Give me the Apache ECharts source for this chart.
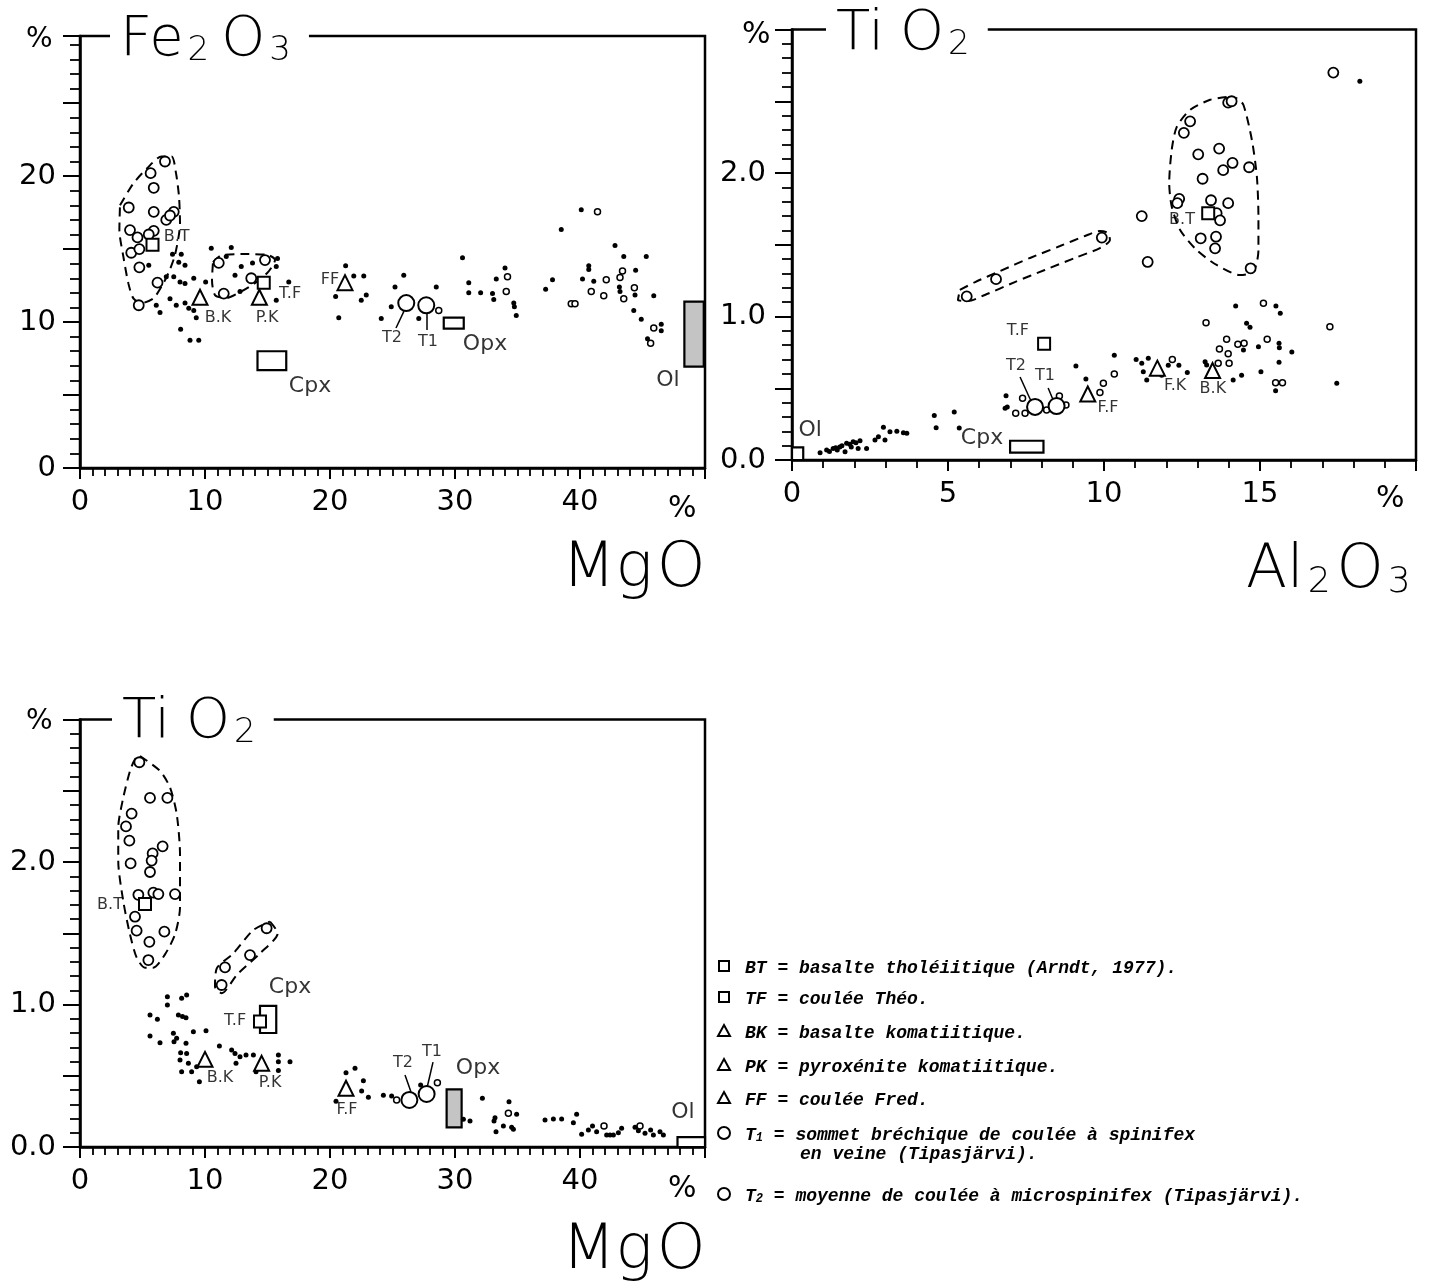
<!DOCTYPE html>
<html><head><meta charset="utf-8">
<script src="https://cdn.jsdelivr.net/npm/echarts/dist/echarts.min.js"></script>
<style>html,body{margin:0;padding:0;background:#fff}#c{width:1433px;height:1281px}</style>
</head><body><div id="c"></div><script>
// ---------- Chart 1 : Fe2O3 vs MgO ----------
const fe_dots = [[7.4,14.65],[8.1,14.65],[7.9,14.1],[8.4,13.9],[6.9,13.1],[7.5,13.1],[8.0,12.75],[8.4,12.65],[9.1,13.0],[10.05,12.75],[7.2,11.6],[7.7,11.15],[6.1,11.15],[6.4,10.65],[8.4,11.3],[8.7,10.95],[9.1,10.8],[9.3,10.3],[8.05,9.5],[8.8,8.75],[9.5,8.75],[5.5,13.9],
[10.5,15.05],[12.1,15.1],[11.7,14.5],[12.9,13.8],[12.4,13.2],[12.8,12.1],[13.8,14.05],[15.8,14.35],[15.7,13.8],[15.7,11.5],[16.7,12.75],
[21.25,13.85],[21.9,13.15],[22.7,13.15],[20.45,11.75],[20.7,10.3],[22.5,11.5],[22.9,11.85],[24.1,10.25],[24.9,11.05],[25.2,12.4],[25.9,13.2],[27.1,10.25],[28.5,12.4],
[30.6,14.4],[31.1,12.7],[31.1,12.0],[32.05,12.0],[33.0,11.95],[33.1,11.55],[33.3,12.95],[34.0,13.7],[34.7,11.3],[34.75,11.05],[34.9,10.45],
[37.25,12.25],[37.8,12.9],[38.5,16.35],[40.1,17.7],[40.2,12.95],[40.7,13.85],[40.7,13.6],[41.1,12.8],[42.8,15.25],[43.5,14.5],[43.15,12.4],[43.2,12.1],[44.45,13.55],[44.4,11.85],[44.3,10.8],[44.9,10.2],[45.3,14.5],[45.9,11.8],[46.5,9.85],[46.5,9.4],[45.4,8.85]];
const fe_circles = [[6.8,21.0],[5.65,20.2],[5.9,19.2],[3.9,17.85],[5.9,17.55],[7.5,17.55],[6.9,17.0],[7.2,17.3],[4.0,16.3],[4.6,15.8],[5.9,16.25],[5.5,16.0],[4.1,14.75],[4.75,15.0],[4.75,13.75],[4.7,11.15],[6.2,12.7],[11.1,14.05],[11.5,11.95],[13.7,13.0],[14.8,14.25]];
const fe_small_circles = [[41.4,17.55],[39.3,11.25],[39.6,11.25],[40.9,12.1],[41.9,11.8],[42.1,12.9],[43.4,13.5],[43.2,13.05],[43.5,11.6],[44.35,12.35],[45.9,9.6],[45.65,8.55],[34.2,13.1],[34.1,12.1],[28.7,10.8]];
const fe_squares = [[5.8,15.3],[14.7,12.7]];
const fe_triangles = [[9.6,11.7],[14.35,11.7],[21.2,12.7]];
const fe_tcircles = [[26.1,11.3],[27.7,11.15]];
const fe_boxes = [[14.2,16.5,6.7,8.0,0],[29.1,30.7,9.55,10.3,0],[48.35,49.9,6.95,11.4,1]];
const fe_env_bt = [[3.2,18.0],[4.27,19.5],[5.33,20.5],[6.53,21.35],[7.33,21.35],[7.68,20.2],[7.92,18.6],[8.0,16.75],[7.6,14.6],[7.07,13.35],[6.53,12.45],[5.87,11.62],[4.93,11.3],[4.27,11.62],[3.87,12.65],[3.47,14.48],[3.15,16.3],[3.2,18.0]];
const fe_env_2 = [[10.64,14.1],[11.36,14.59],[13.2,14.66],[15.04,14.59],[15.6,14.25],[15.04,13.42],[14.0,12.67],[12.8,12.05],[11.68,11.64],[10.8,11.85],[10.56,12.88],[10.64,14.1]];
const fe_leaders = [[[25.92,10.75],[25.28,9.59]],[[27.76,10.6],[27.76,9.45]]];
const fe_labels = [[7.73,15.84,'B.T'],[11.04,10.27,'B.K'],[14.96,10.27,'P.K'],[16.8,11.9,'T.F'],[20.0,12.88,'FF'],[24.96,8.9,'T2'],[27.84,8.63,'T1']];
const fe_biglabels = [[32.4,8.5,'Opx'],[18.4,5.6,'Cpx'],[47.04,6.03,'Ol']];
const fe_xticks = [0,10,20,30,40];
const fe_yticks = [0,10,20];

// ---------- Chart 2 : TiO2 vs Al2O3 ----------
const al_circles = [[17.35,2.70],[13.98,2.49],[14.09,2.50],[12.76,2.36],[12.56,2.28],[13.02,2.13],[13.69,2.17],[14.12,2.07],[13.82,2.02],[14.65,2.04],[13.16,1.96],[12.41,1.82],[12.35,1.79],[13.43,1.81],[13.98,1.79],[13.61,1.72],[13.72,1.67],[13.1,1.545],[13.59,1.556],[13.56,1.475],[14.7,1.336],[11.21,1.70],[11.4,1.38],[9.93,1.55],[5.6,1.14],[6.54,1.26]];
const al_small_circles = [[7.39,0.43],[7.17,0.325],[7.47,0.325],[8.16,0.348],[8.78,0.383],[8.57,0.446],[9.98,0.534],[9.87,0.47],[10.33,0.60],[12.19,0.70],[13.27,0.957],[13.66,0.674],[13.7,0.773],[13.93,0.841],[13.98,0.74],[14.01,0.674],[14.29,0.806],[14.49,0.813],[15.11,1.092],[15.23,0.841],[15.5,0.539],[15.72,0.539],[17.24,0.929]];
const al_dots = [[18.2,2.64],[6.86,0.448],[6.83,0.36],[6.9,0.37],[9.1,0.655],[9.42,0.564],[4.56,0.31],[4.62,0.225],[5.2,0.334],[5.36,0.223],[10.33,0.73],[11.03,0.70],[11.21,0.674],[11.26,0.615],[11.42,0.709],[11.37,0.557],[11.85,0.59],[12.06,0.66],[12.4,0.66],[12.67,0.61],[13.24,0.685],[13.29,0.662],[14.14,0.557],[14.41,0.59],[14.22,1.073],[14.47,0.767],[14.57,0.953],[14.68,0.925],[14.95,0.79],[15.03,0.615],[15.51,1.073],[15.65,1.022],[15.61,0.813],[15.62,0.783],[15.61,0.681],[16.02,0.753],[15.5,0.483],[17.46,0.534],
[0.9,0.05],[1.11,0.07],[1.2,0.06],[1.32,0.08],[1.4,0.085],[1.45,0.07],[1.53,0.09],[1.6,0.1],[1.7,0.058],[1.75,0.116],[1.85,0.11],[1.9,0.09],[1.96,0.128],[2.05,0.12],[2.12,0.08],[2.18,0.134],[2.39,0.08],[2.66,0.14],[2.77,0.162],[2.93,0.228],[2.98,0.14],[3.14,0.197],[3.36,0.2],[3.57,0.19],[3.68,0.186]];
const al_squares = [[13.34,1.72],[8.08,0.81]];
const al_triangles = [[9.48,0.46],[11.71,0.64],[13.48,0.623]];
const al_tcircles = [[7.79,0.37],[8.48,0.376]];
const al_boxes = [[6.99,8.06,0.051,0.134,0],[0,0.36,0.0,0.088,0]];
const al_env_bt = [[13.93,2.53],[13.4,2.51],[12.76,2.44],[12.33,2.32],[12.17,2.16],[12.09,1.929],[12.17,1.766],[12.44,1.603],[12.97,1.463],[13.61,1.359],[14.36,1.289],[14.79,1.312],[14.95,1.463],[14.95,1.695],[14.9,1.974],[14.74,2.23],[14.47,2.474],[14.26,2.52],[13.93,2.53]];
const al_env_2 = [[5.38,1.185],[5.87,1.24],[6.67,1.317],[7.63,1.408],[8.59,1.491],[9.39,1.561],[9.87,1.596],[10.13,1.582],[10.19,1.533],[9.87,1.477],[9.07,1.408],[8.1,1.324],[7.14,1.24],[6.18,1.15],[5.64,1.108],[5.32,1.115],[5.38,1.185]];
const al_leaders = [[[7.31,0.578],[7.66,0.411]],[[8.21,0.502],[8.37,0.418]]];
const al_labels = [[12.5,1.672,'B.T'],[12.28,0.516,'F.K'],[13.49,0.495,'B.K'],[10.13,0.362,'F.F'],[7.24,0.899,'T.F'],[7.18,0.655,'T2'],[8.11,0.585,'T1']];
const al_biglabels = [[0.58,0.209,'Ol'],[6.09,0.153,'Cpx']];
const al_xticks = [0,5,10,15];
const al_yticks = [0,1,2];

// ---------- Chart 3 : TiO2 vs MgO ----------
const ti_circles = [[4.75,2.70],[5.6,2.45],[6.99,2.45],[4.13,2.34],[3.68,2.25],[3.95,2.15],[6.61,2.11],[5.81,2.06],[5.73,2.01],[4.05,1.99],[5.6,1.93],[4.67,1.77],[5.87,1.785],[6.27,1.775],[7.6,1.775],[4.4,1.616],[4.53,1.518],[6.75,1.511],[5.55,1.44],[5.47,1.312],[14.93,1.535],[13.6,1.347],[11.6,1.261],[11.33,1.137]];
const ti_small_circles = [[25.33,0.33],[28.59,0.451],[34.27,0.236],[41.92,0.147],[44.8,0.147]];
const ti_dots = [[6.99,1.055],[6.99,0.996],[8.53,1.067],[8.13,1.043],[5.6,0.926],[6.19,0.896],[7.87,0.926],[8.48,0.907],[8.2,0.915],[5.6,0.779],[6.4,0.732],[7.47,0.798],[7.73,0.763],[7.52,0.739],[8.48,0.728],[9.07,0.809],[10.08,0.816],[8.05,0.662],[8.53,0.657],[8.0,0.61],[8.67,0.587],[8.13,0.528],[8.93,0.528],[9.33,0.563],[9.55,0.458],[11.15,0.709],[12.13,0.681],[12.4,0.657],[12.8,0.634],[12.48,0.587],[13.28,0.646],[13.87,0.646],[14.08,0.528],[15.87,0.646],[15.87,0.599],[15.87,0.536],[16.8,0.599],
[21.28,0.521],[22.0,0.552],[22.67,0.465],[22.53,0.393],[23.07,0.349],[20.48,0.321],[24.27,0.363],[24.93,0.358],[27.25,0.435],[30.67,0.194],[31.2,0.182],[32.19,0.342],[34.32,0.318],[33.2,0.206],[33.12,0.182],[34.93,0.229],[33.87,0.147],[34.53,0.138],[34.67,0.124],[33.28,0.107],[37.2,0.189],[37.87,0.196],[38.53,0.196],[39.73,0.229],[39.47,0.171],[40.13,0.089],[40.67,0.119],[41.0,0.147],[41.33,0.107],[42.13,0.084],[42.4,0.084],[42.67,0.084],[43.07,0.1],[43.33,0.131],[44.4,0.138],[44.67,0.114],[45.2,0.096],[45.65,0.119],[45.87,0.084],[46.4,0.107],[46.67,0.084]];
const ti_squares = [[5.2,1.705],[14.4,0.88]];
const ti_triangles = [[10.0,0.615],[14.53,0.587],[21.28,0.412]];
const ti_tcircles = [[26.35,0.33],[27.73,0.372]];
const ti_boxes = [[14.4,15.7,0.8,0.99,0],[29.33,30.53,0.138,0.405,1],[47.8,50,0.0,0.07,0]];
const ti_env_bt = [[4.8,2.744],[6.4,2.639],[7.2,2.523],[7.74,2.335],[8.0,2.054],[8.0,1.68],[7.6,1.492],[6.8,1.352],[5.86,1.258],[5.2,1.258],[4.54,1.328],[4.0,1.492],[3.46,1.726],[3.06,2.007],[3.06,2.241],[3.46,2.451],[4.0,2.639],[4.4,2.721],[4.8,2.744]];
const ti_env_2 = [[15.2,1.582],[15.82,1.5],[14.4,1.359],[12.54,1.207],[11.34,1.079],[10.8,1.125],[10.94,1.254],[12.27,1.359],[13.87,1.523],[15.2,1.582]];
const ti_leaders = [[[26.0,0.505],[26.48,0.386]],[[28.24,0.596],[27.76,0.414]]];
const ti_labels = [[2.4,1.70,'B.T'],[12.4,0.884,'T.F'],[11.2,0.484,'B.K'],[15.2,0.449,'P.K'],[21.36,0.26,'F.F'],[25.84,0.589,'T2'],[28.16,0.667,'T1']];
const ti_biglabels = [[16.8,1.123,'Cpx'],[31.84,0.554,'Opx'],[48.24,0.246,'Ol']];
const ti_xticks = [0,10,20,30,40];
const ti_yticks = [0,1,2];

// ---------- Legend text ----------
const legendRows = [
  ['square','BT','','basalte tholéiitique (Arndt, 1977).'],
  ['square','TF','','coulée Théo.'],
  ['triangle','BK','','basalte komatiitique.'],
  ['triangle','PK','','pyroxénite komatiitique.'],
  ['triangle','FF','','coulée Fred.'],
  ['circle','T','1','sommet bréchique de coulée à spinifex','en veine (Tipasjärvi).'],
  ['circle','T','2','moyenne de coulée à microspinifex (Tipasjärvi).']
];

// ================== build ==================
const FONT = "'DejaVu Sans', sans-serif";
const chart = echarts.init(document.getElementById('c'), null, {renderer:'canvas'});

const grids = [
  {left:80, top:36, width:625, height:432},
  {left:792, top:29.5, width:624, height:430.5},
  {left:80, top:719.5, width:625, height:427.5}
];

function inList(list, v){ return list.some(t => Math.abs(t - v) < 1e-6); }

function xAxis(g, max, interval, minorSplit, ticks){
  return {type:'value', gridIndex:g, min:0, max:max, interval:interval,
    axisLine:{show:true, onZero:false, lineStyle:{color:'#000', width:2.5}},
    axisTick:{show:true, inside:false, length:11, lineStyle:{color:'#000', width:2}},
    minorTick:{show:true, splitNumber:minorSplit, length:8, lineStyle:{color:'#000', width:1.8}},
    splitLine:{show:false}, minorSplitLine:{show:false},
    axisLabel:{show:true, margin:20, color:'#000', fontSize:29, fontFamily:FONT,
      formatter: v => inList(ticks, v) ? String(v) : ''}};
}
function yAxis(g, max, interval, minorSplit, ticks, dec, margin){
  return {type:'value', gridIndex:g, min:0, max:max, interval:interval,
    axisLine:{show:true, onZero:false, lineStyle:{color:'#000', width:2.5}},
    axisTick:{show:true, inside:false, length:17, lineStyle:{color:'#000', width:2}},
    minorTick:{show:true, splitNumber:minorSplit, length:10, lineStyle:{color:'#000', width:1.8}},
    splitLine:{show:false}, minorSplitLine:{show:false},
    axisLabel:{show:true, margin:margin, color:'#000', fontSize:29, fontFamily:FONT,
      formatter: v => inList(ticks, v) ? v.toFixed(dec) : ''}};
}

function sc(g, data, symbol, size, fill, bw, z){
  return {type:'scatter', xAxisIndex:g, yAxisIndex:g, data:data, symbol:symbol, symbolSize:size,
    itemStyle:{color:fill, borderColor:'#000', borderWidth:bw, opacity:1}, z:z||3, silent:true};
}
function env(g, data){
  return {type:'line', xAxisIndex:g, yAxisIndex:g, data:data, symbol:'none', smooth:0.25,
    lineStyle:{color:'#000', width:2, type:[9,6]}, z:2, silent:true};
}
function lead(g, data){
  return {type:'line', xAxisIndex:g, yAxisIndex:g, data:data, symbol:'none',
    lineStyle:{color:'#000', width:1.5}, z:2, silent:true};
}
function labs(g, data, fs){
  return {type:'scatter', xAxisIndex:g, yAxisIndex:g, data:data, symbolSize:1,
    itemStyle:{color:'rgba(0,0,0,0)'}, z:5, silent:true,
    label:{show:true, position:'inside', color:'#000', fontSize:fs, fontFamily:FONT,
      formatter: p => p.value[2]}};
}
function boxes(g, data){
  return {type:'custom', xAxisIndex:g, yAxisIndex:g, data:data, z:2, silent:true,
    renderItem:(params, api) => {
      const p1 = api.coord([api.value(0), api.value(3)]);
      const p2 = api.coord([api.value(1), api.value(2)]);
      return {type:'rect', shape:{x:p1[0], y:p1[1], width:p2[0]-p1[0], height:p2[1]-p1[1]},
        style:{fill: api.value(4) ? '#c4c4c4' : '#fff', stroke:'#000', lineWidth:2.2}};
    }};
}

const series = [];
function addChart(g, d){
  series.push(env(g, d.env1), env(g, d.env2));
  d.leaders.forEach(l => series.push(lead(g, l)));
  series.push(boxes(g, d.boxes));
  series.push(sc(g, d.dots, 'circle', 5, '#000', 0, 3));
  series.push(sc(g, d.small, 'circle', 6, '#fff', 1.5, 3));
  series.push(sc(g, d.circles, 'circle', 10, '#fff', 1.8, 4));
  series.push(sc(g, d.squares, 'rect', 12, '#fff', 2, 4));
  series.push(sc(g, d.triangles, 'triangle', 15, '#fff', 2, 4));
  series.push(sc(g, d.tcircles, 'circle', 16, '#fff', 2, 4));
  series.push(labs(g, d.labels, 16));
  series.push(labs(g, d.big, 22));
}
addChart(0, {env1:fe_env_bt, env2:fe_env_2, leaders:fe_leaders, boxes:fe_boxes, dots:fe_dots, small:fe_small_circles, circles:fe_circles, squares:fe_squares, triangles:fe_triangles, tcircles:fe_tcircles, labels:fe_labels, big:fe_biglabels});
addChart(1, {env1:al_env_bt, env2:al_env_2, leaders:al_leaders, boxes:al_boxes, dots:al_dots, small:al_small_circles, circles:al_circles, squares:al_squares, triangles:al_triangles, tcircles:al_tcircles, labels:al_labels, big:al_biglabels});
addChart(2, {env1:ti_env_bt, env2:ti_env_2, leaders:ti_leaders, boxes:ti_boxes, dots:ti_dots, small:ti_small_circles, circles:ti_circles, squares:ti_squares, triangles:ti_triangles, tcircles:ti_tcircles, labels:ti_labels, big:ti_biglabels});

// free text (titles, axis names, % marks, legend)
const TFONT = "'DejaVu Sans', sans-serif";
function richTitle(x, y, tokens, big, small, gap){
  return {type:'text', x:x, y:y, z:100,
    style:{text:tokens, fill:'#000', backgroundColor:'#fff', padding:[0,8,0,8],
      font: '200 ' + big + 'px ' + TFONT,
      rich:{a:{fontSize:big, fontWeight:200, fontFamily:TFONT, lineHeight:big*1.15, verticalAlign:'bottom', padding:[0,2,0,2]},
            s:{fontSize:small, fontWeight:200, fontFamily:TFONT, lineHeight:big*1.15, verticalAlign:'bottom', padding:[0,gap,0,2]}}}};
}
function txt(x, y, s, size){
  return {type:'text', x:x, y:y, z:100, style:{text:s, fill:'#000', font: size + 'px ' + FONT}};
}

const graphics = [
  richTitle(110, 4, '{a|Fe}{s|2}{a|O}{s|3}', 56, 34, 10),
  richTitle(826, -2, '{a|Ti}{s|}{a|O}{s|2}', 56, 34, 10),
  richTitle(112, 686, '{a|Ti}{s|}{a|O}{s|2}', 56, 34, 10),
  richTitle(552, 530, '{a|Mg}{a|O}', 62, 36, 4),
  richTitle(1236, 532, '{a|Al}{s|2}{a|O}{s|3}', 60, 36, 4),
  richTitle(552, 1212, '{a|Mg}{a|O}', 62, 36, 4),
  txt(26, 26, '%', 28), txt(668, 494, '%', 30),
  txt(742, 20, '%', 30), txt(1376, 484, '%', 30),
  txt(26, 708, '%', 28), txt(668, 1174, '%', 30)
];
// legend
const legY = [966, 997, 1031, 1065, 1098, 1133, 1194];
const LF = "'Liberation Mono', 'DejaVu Sans Mono', monospace";
legendRows.forEach((r, i) => {
  const y = legY[i], cx = 724;
  if (r[0] === 'square') graphics.push({type:'rect', z:100, shape:{x:cx-5, y:y-5, width:10, height:10}, style:{fill:'#fff', stroke:'#000', lineWidth:2}});
  if (r[0] === 'triangle') graphics.push({type:'polygon', z:100, shape:{points:[[cx,y-6],[cx+6,y+5],[cx-6,y+5]]}, style:{fill:'#fff', stroke:'#000', lineWidth:2}});
  if (r[0] === 'circle') graphics.push({type:'circle', z:100, shape:{cx:cx, cy:y, r:6}, style:{fill:'#fff', stroke:'#000', lineWidth:2}});
  const t = r[2] ? '{k|' + r[1] + '}{u|' + r[2] + '}{k| = ' + r[3] + '}' : '{k|' + r[1] + ' = ' + r[3] + '}';
  graphics.push({type:'text', z:100, x:745, y:y - 11, style:{text:t, fill:'#000',
    rich:{k:{fontStyle:'italic', fontWeight:'bold', fontSize:18, fontFamily:LF, lineHeight:22, verticalAlign:'bottom'},
          u:{fontStyle:'italic', fontWeight:'bold', fontSize:12, fontFamily:LF, lineHeight:22, verticalAlign:'bottom'}}}});
  if (r[4]) graphics.push({type:'text', z:100, x:800, y:y + 12, style:{text:r[4], fill:'#000',
    font:"italic bold 18px " + LF}});
});

chart.setOption({
  animation:false,
  backgroundColor:'#fff',
  grid: grids.map(g => Object.assign({show:true, borderColor:'#000', borderWidth:2.5, backgroundColor:'transparent', containLabel:false, outerBoundsMode:'none'}, g)),
  xAxis:[
    xAxis(0, 50, 10, 10, fe_xticks),
    xAxis(1, 20, 5, 5, al_xticks),
    xAxis(2, 50, 10, 10, ti_xticks)
  ],
  yAxis:[
    yAxis(0, 29.6, 5, 5, fe_yticks, 0, 24),
    yAxis(1, 3.0, 0.5, 5, al_yticks, 1, 26),
    yAxis(2, 3.0, 0.5, 5, ti_yticks, 1, 24)
  ],
  series: series,
  graphic: graphics
});
</script></body></html>
